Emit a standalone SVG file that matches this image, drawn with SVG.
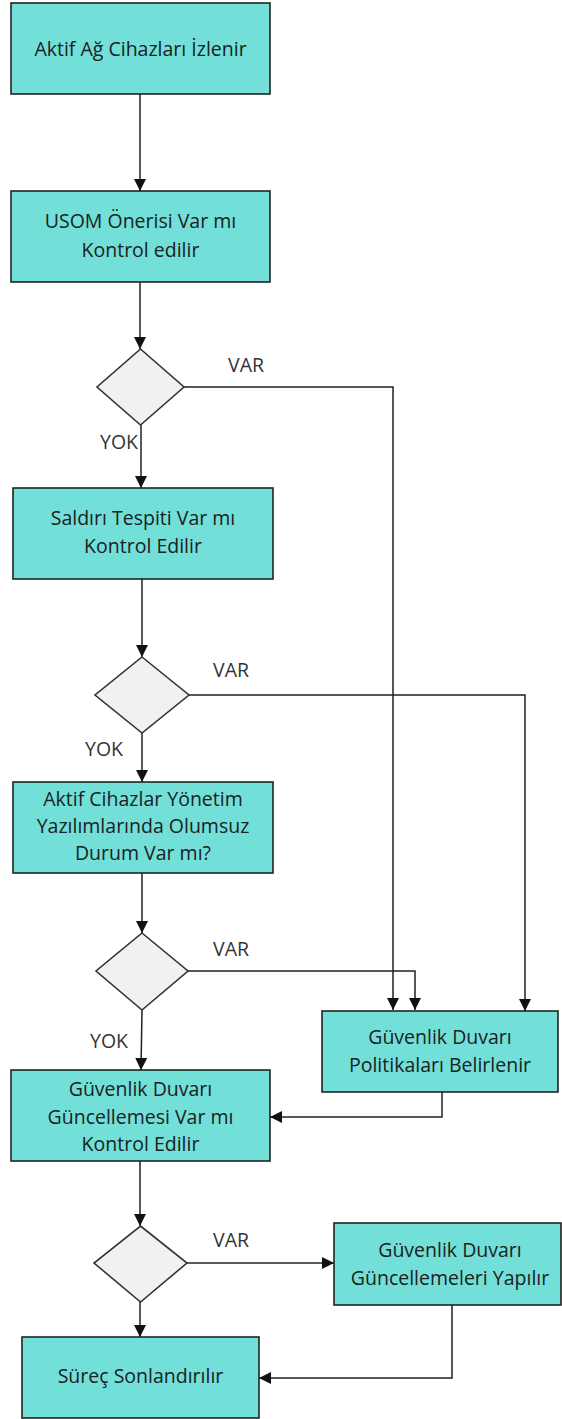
<svg xmlns="http://www.w3.org/2000/svg" width="562" height="1419" viewBox="0 0 562 1419">
<style>
.box{fill:#72dfd9;stroke:#222;stroke-width:1.6}
.dia{fill:#f1f1f1;stroke:#333;stroke-width:1.6}
.t{font-family:"Open Sans","Liberation Sans",sans-serif;font-size:19.5px;fill:#1a2222;text-anchor:middle}
.lb{font-family:"Open Sans","Liberation Sans",sans-serif;font-size:19.5px;fill:#333}
.c{fill:none;stroke:#222;stroke-width:1.5}
</style>
<defs>
<marker id="ah" markerUnits="userSpaceOnUse" markerWidth="12" markerHeight="12" viewBox="0 0 12 12" refX="12" refY="6" orient="auto">
<path d="M0,0 L12,6 L0,12 Z" fill="#111"/>
</marker>
</defs>
<rect width="562" height="1419" fill="#fff"/>
<g id="connectors">
<path class="c" d="M140,94 V191" marker-end="url(#ah)"/>
<path class="c" d="M140,282 V349" marker-end="url(#ah)"/>
<path class="c" d="M141,425 V488" marker-end="url(#ah)"/>
<path class="c" d="M184,387 H393 V1010" marker-end="url(#ah)"/>
<path class="c" d="M142,579 V657" marker-end="url(#ah)"/>
<path class="c" d="M142,733 V782" marker-end="url(#ah)"/>
<path class="c" d="M189,695 H525 V1011" marker-end="url(#ah)"/>
<path class="c" d="M142,873 V933" marker-end="url(#ah)"/>
<path class="c" d="M188,971 H415 V1010" marker-end="url(#ah)"/>
<path class="c" d="M142,1010 L141,1070" marker-end="url(#ah)"/>
<path class="c" d="M442,1092 V1117 H270" marker-end="url(#ah)"/>
<path class="c" d="M140,1161 V1226" marker-end="url(#ah)"/>
<path class="c" d="M187,1263 H334" marker-end="url(#ah)"/>
<path class="c" d="M140,1302 V1337" marker-end="url(#ah)"/>
<path class="c" d="M452,1305 V1378 H259" marker-end="url(#ah)"/>
<text class="lb" x="228" y="372">VAR</text>
<text class="lb" x="100" y="449">YOK</text>
<text class="lb" x="213" y="677">VAR</text>
<text class="lb" x="85" y="756">YOK</text>
<text class="lb" x="213" y="956">VAR</text>
<text class="lb" x="90" y="1048">YOK</text>
<text class="lb" x="213" y="1247">VAR</text>
</g>
<g id="n1"><rect class="box" x="11" y="3" width="259" height="91"/><text class="t" x="140.5" y="56">Aktif Ağ Cihazları İzlenir</text></g>
<g id="n2"><rect class="box" x="11" y="191" width="259" height="91"/><text class="t" x="140.5" y="228">USOM Önerisi Var mı</text><text class="t" x="140.5" y="257">Kontrol edilir</text></g>
<g id="d1"><polygon class="dia" points="140.5,349 184,387 140.5,425 97,387"/></g>
<g id="n3"><rect class="box" x="13" y="488" width="260" height="91"/><text class="t" x="143" y="525">Saldırı Tespiti Var mı</text><text class="t" x="143" y="553">Kontrol Edilir</text></g>
<g id="d2"><polygon class="dia" points="142,657 189,695 142,733 95,695"/></g>
<g id="n4"><rect class="box" x="13" y="782" width="260" height="91"/><text class="t" x="143" y="806">Aktif Cihazlar Yönetim</text><text class="t" x="143" y="833">Yazılımlarında Olumsuz</text><text class="t" x="143" y="860">Durum Var mı?</text></g>
<g id="d3"><polygon class="dia" points="142,933 188,971 142,1010 96,971"/></g>
<g id="n5"><rect class="box" x="322" y="1011" width="236" height="81"/><text class="t" x="440" y="1044">Güvenlik Duvarı</text><text class="t" x="440" y="1072">Politikaları Belirlenir</text></g>
<g id="n6"><rect class="box" x="11" y="1070" width="259" height="91"/><text class="t" x="140.5" y="1096">Güvenlik Duvarı</text><text class="t" x="140.5" y="1124">Güncellemesi Var mı</text><text class="t" x="140.5" y="1151">Kontrol Edilir</text></g>
<g id="d4"><polygon class="dia" points="140.5,1226 187,1263 140.5,1302 94,1263"/></g>
<g id="n7"><rect class="box" x="334" y="1223" width="227" height="82"/><text class="t" x="450" y="1257">Güvenlik Duvarı</text><text class="t" x="450" y="1285">Güncellemeleri Yapılır</text></g>
<g id="n8"><rect class="box" x="22" y="1337" width="237" height="81"/><text class="t" x="140.5" y="1383">Süreç Sonlandırılır</text></g>
</svg>
